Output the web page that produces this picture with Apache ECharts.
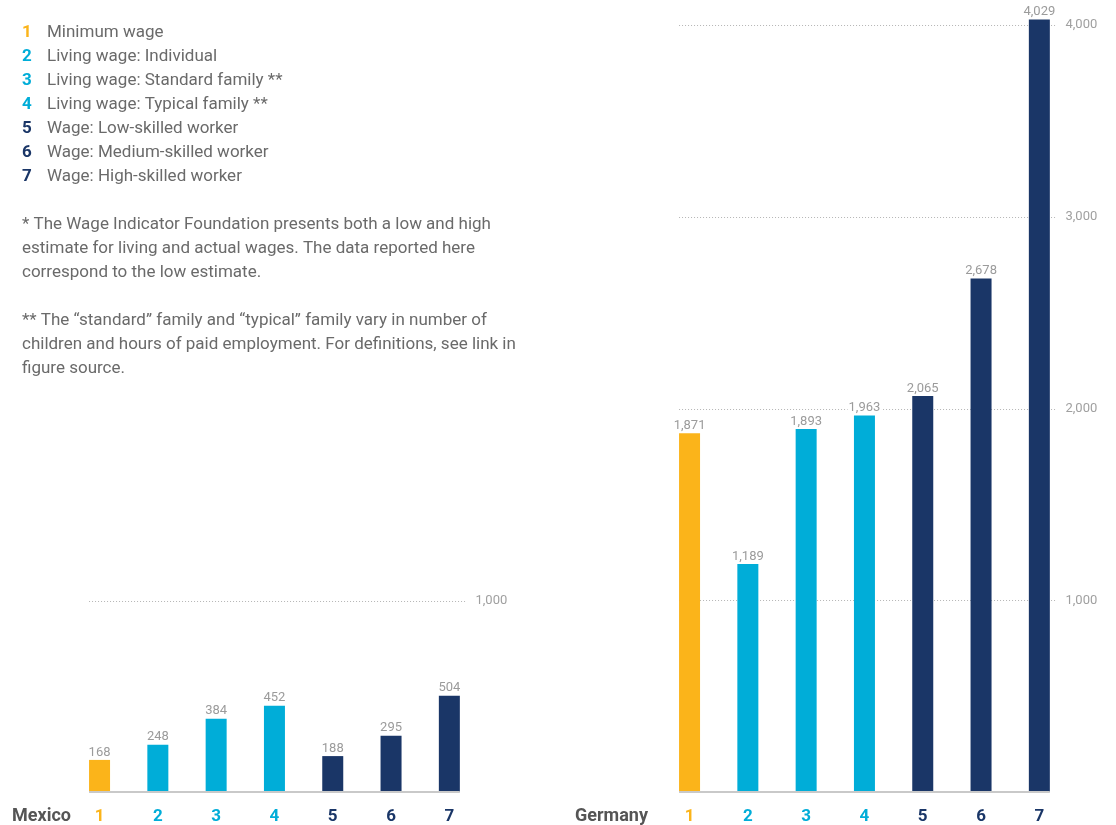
<!DOCTYPE html>
<html><head><meta charset="utf-8">
<script src="https://cdn.jsdelivr.net/npm/echarts@6/dist/echarts.min.js"></script>
<style>html,body{margin:0;padding:0;background:#fff}#c{width:1116px;height:825px}</style>
</head><body><div id="c"></div>
<script>
const categories = ['1','2','3','4','5','6','7'];
const categoryNames = ['Minimum wage','Living wage: Individual','Living wage: Standard family **','Living wage: Typical family **','Wage: Low-skilled worker','Wage: Medium-skilled worker','Wage: High-skilled worker'];
const mexicoValues = [168, 248, 384, 452, 188, 295, 504];
const germanyValues = [1871, 1189, 1893, 1963, 2065, 2678, 4029];
const mexicoTicks = [1000];
const germanyTicks = [1000, 2000, 3000, 4000];
const countries = ['Mexico', 'Germany'];
const notes = [
  '* The Wage Indicator Foundation presents both a low and high',
  'estimate for living and actual wages. The data reported here',
  'correspond to the low estimate.',
  '',
  '** The \u201cstandard\u201d family and \u201ctypical\u201d family vary in number of',
  'children and hours of paid employment. For definitions, see link in',
  'figure source.'
];

const FONT = 'Roboto';
const ORANGE = '#FBB41A', BLUE = '#00ADD8', NAVY = '#1A3667';
const catColors = [ORANGE, BLUE, BLUE, BLUE, NAVY, NAVY, NAVY];
const BAR_W = 21;

const chart = echarts.init(document.getElementById('c'), null, {renderer: 'canvas'});

const rich = {t: {fontFamily: FONT, fontSize: 17, fontWeight: 'normal', color: '#6a6a6a', lineHeight: 24}};
catColors.forEach((c, i) => {
  rich['n' + i] = {fontFamily: FONT, fontSize: 17, fontWeight: 'bold', color: c, width: 25, lineHeight: 24};
});
const legendLines = categoryNames.map((n, i) => '{n' + i + '|' + categories[i] + '}{t|' + n + '}');
const noteLines = notes.map(s => '{t|' + (s || ' ') + '}');
const infoText = legendLines.concat(['{t| }'], noteLines).join('\n');

function fmt(v) { return v.toLocaleString('en-US'); }

function barSeries(values, idx) {
  return {
    type: 'bar', xAxisIndex: idx, yAxisIndex: idx,
    barWidth: BAR_W, clip: false, z: 3,
    data: values.map((v, i) => ({value: v, itemStyle: {color: catColors[i]}})),
    label: {
      show: true, position: 'top', distance: 1,
      fontFamily: FONT, fontSize: 13, color: '#9b9b9b',
      backgroundColor: '#fff', padding: [0, 1, 0, 1],
      formatter: p => fmt(p.value)
    }
  };
}

function xAx(idx) {
  return {
    type: 'category', gridIndex: idx, data: categories, boundaryGap: true,
    axisLine: {show: false}, axisTick: {show: false},
    axisLabel: {
      margin: 16, fontFamily: FONT, fontSize: 17, fontWeight: 'bold',
      color: (v, i) => catColors[categories.indexOf(v)]
    }
  };
}
function yAx(idx, max) {
  return {
    type: 'value', gridIndex: idx, position: 'right', min: 0, max: max, interval: 1000,
    splitLine: {show: false}, axisLine: {show: false}, axisTick: {show: false},
    axisLabel: {
      margin: -3, fontFamily: FONT, fontSize: 13, color: '#a0a0a0',
      formatter: v => v === 0 ? '' : fmt(v)
    }
  };
}

const countryStyle = {fontFamily: FONT, fontSize: 18, fontWeight: 'bold', color: '#555', lineHeight: 20};
const option = {
  animation: false,
  backgroundColor: '#fff',
  title: [
    {text: infoText, left: 22, top: 21, padding: 0, textStyle: {rich: rich, lineHeight: 24, fontWeight: 'normal'}},
    {text: countries[0], left: 12, top: 806, padding: 0, textStyle: countryStyle},
    {text: countries[1], left: 575, top: 806, padding: 0, textStyle: countryStyle}
  ],
  grid: [
    {left: 70.4, width: 408.1, top: 601, height: 191},
    {left: 660.4, width: 408.1, top: 25, height: 767}
  ],
  xAxis: [xAx(0), xAx(1)],
  yAxis: [yAx(0, 1000), yAx(1, 4000)],
  series: [barSeries(mexicoValues, 0), barSeries(germanyValues, 1)]
};
chart.setOption(option);

// reference lines computed through the axes' scales
const elements = [];
[[mexicoTicks, 0], [germanyTicks, 1]].forEach(([ticks, g]) => {
  const xa = chart.convertToPixel({xAxisIndex: g}, categories[0]) - BAR_W / 2;
  const xb = chart.convertToPixel({xAxisIndex: g}, categories[categories.length - 1]) + BAR_W / 2;
  const y0 = chart.convertToPixel({yAxisIndex: g}, 0);
  ticks.forEach(t => {
    const y = Math.round(chart.convertToPixel({yAxisIndex: g}, t)) + 0.5;
    elements.push({type: 'line', z: 0, silent: true,
      shape: {x1: xa, y1: y, x2: xb + 7, y2: y},
      style: {stroke: '#b5b5b5', lineWidth: 1, lineDash: [1, 2]}});
  });
  elements.push({type: 'line', z: 10, silent: true,
    shape: {x1: xa, y1: y0, x2: xb, y2: y0},
    style: {stroke: '#c9c9c9', lineWidth: 2}});
});
chart.setOption({graphic: {elements: elements}});
</script>
</body></html>
